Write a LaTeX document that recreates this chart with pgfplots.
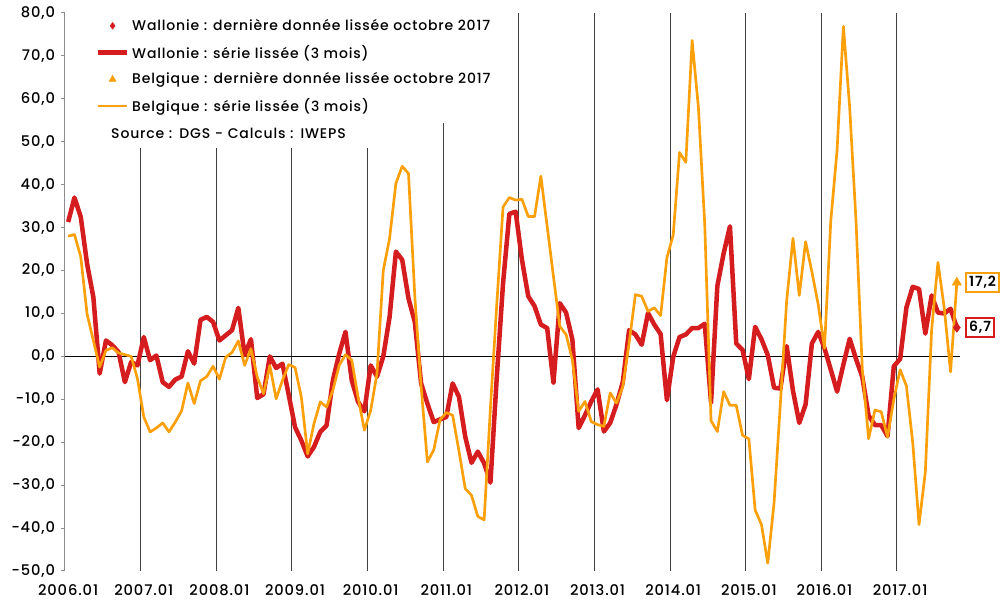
\documentclass[border=0pt]{standalone}
\usepackage{pgfplots}
\usepackage{pgfplotstable}
\pgfplotsset{compat=1.18}
\usepackage{fontspec}
\setmainfont{Poppins}[UprightFont=* Medium, BoldFont=* SemiBold, LetterSpace=6]
\definecolor{wred}{RGB}{213,28,31}
\definecolor{borange}{RGB}{251,160,10}
\pgfplotsset{
  mylegline/.style={legend image code/.code={\draw[##1] (0pt,0pt) -- (22pt,0pt);}},
  mylegmark/.style={legend image code/.code={\draw[mark repeat=2,mark phase=2,##1] plot coordinates {(0pt,0pt) (11pt,0pt) (22pt,0pt)};}},
}

\pgfplotstableread{
m w b
0 31.3 28.0
1 37.0 28.4
2 32.5 23.2
3 21.6 9.9
4 13.8 3.7
5 -4.0 -2.5
6 3.7 1.4
7 2.6 2.0
8 1.0 0.8
9 -6.0 0.4
10 -1.3 0.0
11 -2.1 -5.2
12 4.5 -14.1
13 -0.9 -17.6
14 0.2 -16.7
15 -6.0 -15.5
16 -7.1 -17.6
17 -5.4 -15.3
18 -4.7 -12.7
19 1.2 -6.2
20 -1.7 -11.0
21 8.5 -5.7
22 9.2 -4.7
23 8.0 -2.3
24 3.7 -5.3
25 4.9 -0.2
26 6.1 0.9
27 11.3 3.6
28 0.3 -2.1
29 4.0 1.8
30 -9.7 -4.8
31 -8.8 -8.7
32 0.0 -2.1
33 -2.7 -9.9
34 -1.7 -5.6
35 -9.0 -1.9
36 -16.5 -2.6
37 -19.6 -9.5
38 -23.3 -22.7
39 -21.1 -15.7
40 -17.6 -10.6
41 -16.1 -11.8
42 -5.6 -7.9
43 0.6 -2.1
44 5.7 0.4
45 -5.6 -0.9
46 -10.6 -9.5
47 -12.8 -17.2
48 -2.1 -12.6
49 -4.7 -4.0
50 0.0 20.1
51 9.2 27.5
52 24.4 40.3
53 22.5 44.3
54 13.5 42.6
55 8.0 14.0
56 -6.3 -7.0
57 -11.0 -24.6
58 -15.3 -21.8
59 -14.7 -14.8
60 -14.1 -13.1
61 -6.3 -13.7
62 -9.4 -22.0
63 -18.7 -30.8
64 -24.8 -32.4
65 -22.2 -37.3
66 -24.9 -38.1
67 -29.4 -12.0
68 -5.0 12.0
69 17.0 34.8
70 33.2 37.0
71 33.7 36.4
72 22.5 36.6
73 14.0 32.6
74 11.7 32.6
75 7.4 42.0
76 6.6 30.3
77 -6.1 18.6
78 12.4 7.0
79 10.2 5.1
80 3.9 -0.8
81 -16.7 -12.8
82 -13.7 -10.5
83 -10.5 -15.2
84 -7.7 -15.9
85 -17.5 -16.3
86 -15.5 -8.5
87 -11.2 -10.9
88 -6.0 -7.0
89 6.1 3.1
90 5.1 14.4
91 2.7 14.0
92 10.1 10.5
93 7.4 11.3
94 5.2 9.5
95 -10.2 23.0
96 -0.1 28.3
97 4.5 47.5
98 5.1 45.2
99 6.6 73.6
100 6.6 57.9
101 7.6 30.8
102 -10.7 -15.0
103 16.4 -17.5
104 24.0 -8.2
105 30.3 -11.4
106 3.0 -11.4
107 1.5 -18.4
108 -5.3 -19.2
109 6.9 -35.8
110 4.0 -39.2
111 0.3 -48.2
112 -7.3 -34.1
113 -7.5 -11.0
114 2.4 13.0
115 -8.0 27.5
116 -15.5 14.2
117 -11.2 26.7
118 3.0 19.7
119 5.7 12.1
120 1.9 1.9
121 -3.1 31.6
122 -8.2 48.1
123 -1.9 76.9
124 4.1 57.9
125 -0.6 31.6
126 -4.8 -3.0
127 -13.8 -19.2
128 -16.0 -12.5
129 -16.0 -12.9
130 -18.6 -18.8
131 -2.3 -10.0
132 -0.6 -3.1
133 11.4 -6.9
134 16.2 -20.1
135 15.7 -39.2
136 5.3 -26.9
137 14.2 6.2
138 10.2 21.9
139 10.0 11.3
140 11.1 -3.6
141 6.7 17.2
}\datatable

\begin{document}
\begin{tikzpicture}
\begin{axis}[
  name=ax,
  scale only axis,
  width=671.25pt, height=418.5pt,
  xmin=-0.5, xmax=141.5, ymin=-50, ymax=80,
  clip=false,
  axis lines*=left,
  x axis line style={draw=none},
  y axis line style={draw=black!45, line width=0.75pt},
  xtick={0,12,...,132},
  xticklabels={2006.01,2007.01,2008.01,2009.01,2010.01,2011.01,2012.01,2013.01,2014.01,2015.01,2016.01,2017.01},
  x tick style={draw=none},
  extra x ticks={11.5,23.5,35.5,47.5,59.5,71.5,83.5,95.5,107.5,119.5,131.5},
  extra x tick labels={},
  extra x tick style={grid=major, major grid style={draw=black!75, line width=0.75pt}, tick style={draw=none}},
  ytick={-50,-40,...,80},
  yticklabels={{-50,0},{-40,0},{-30,0},{-20,0},{-10,0},{0,0},{10,0},{20,0},{30,0},{40,0},{50,0},{60,0},{70,0},{80,0}},
  y tick style={draw=black!45, line width=0.75pt},
  tick align=outside,
  major tick length=3pt,
  tick label style={font=\fontsize{11}{12}\selectfont, text=black},
  yticklabel style={xshift=-1pt},
  xticklabel style={yshift=-3.5pt},
  legend cell align=left,
  legend style={at={(rel axis cs:0.028,1.006)}, anchor=north west, fill=white, draw=none,
    font=\fontsize{10.5}{12.5}\selectfont, row sep=5.5pt, inner xsep=4pt, inner ysep=5pt,
    /tikz/every even column/.append style={column sep=2pt}},
]
\addplot[draw=black, line width=0.75pt, forget plot] coordinates {(-0.5,0) (141.5,0)};
\addplot[wred, line width=3.4pt, line join=round, forget plot] table[x=m,y=w]{\datatable};
\addplot[borange, line width=2pt, line join=round, forget plot] table[x=m,y=b]{\datatable};
\addplot[only marks, mark=diamond*, mark size=3.5pt, wred, forget plot,
  nodes near coords={\bfseries 6,7},
  every node near coord/.style={anchor=west, xshift=6pt, draw=wred, line width=1.5pt, fill=white, text=black, inner sep=2.5pt, font=\fontsize{10.5}{12}\selectfont}]
  coordinates {(141,6.7)};
\addplot[only marks, mark=triangle*, mark size=4pt, borange, forget plot,
  nodes near coords={\bfseries 17,2},
  every node near coord/.style={anchor=west, xshift=6pt, draw=borange, line width=1.5pt, fill=white, text=black, inner sep=2.5pt, font=\fontsize{10.5}{12}\selectfont}]
  coordinates {(141,17.2)};
\addlegendimage{mylegmark, only marks, mark=diamond*, mark size=2.5pt, wred}
\addlegendentry{Wallonie : dernière donnée lissée octobre 2017}
\addlegendimage{mylegline, wred, line width=3.4pt}
\addlegendentry{Wallonie : série lissée (3 mois)}
\addlegendimage{mylegmark, only marks, mark=triangle*, mark size=3pt, borange}
\addlegendentry{Belgique : dernière donnée lissée octobre 2017}
\addlegendimage{mylegline, borange, line width=2pt}
\addlegendentry{Belgique : série lissée (3 mois)}
\node[anchor=west, fill=white, inner xsep=12pt, inner ysep=0pt, minimum height=22.5pt, text width=220pt, align=left,
  font=\fontsize{10.5}{12.5}\selectfont]
  at (rel axis cs:0.0335,0.785) {Source : DGS - Calculs : IWEPS};
\end{axis}
\pgfresetboundingbox
\path[use as bounding box] ([shift={(-48.75pt,-22.5pt)}]ax.south west) rectangle ([shift={(33pt,9.75pt)}]ax.north east);
\end{tikzpicture}
\end{document}
